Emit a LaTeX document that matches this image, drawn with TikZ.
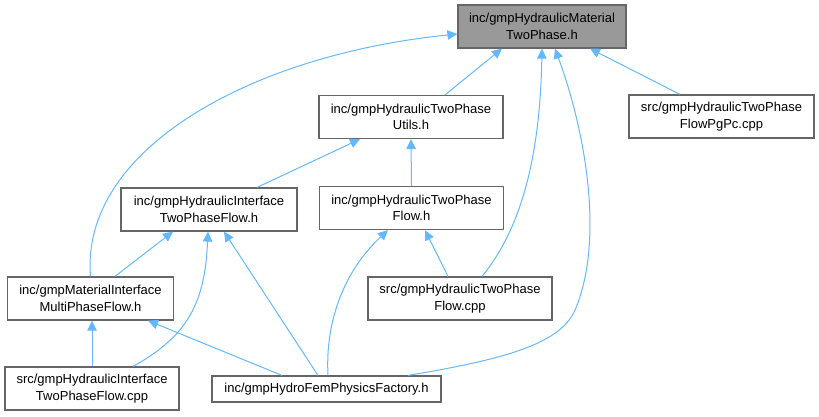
\documentclass[tikz,border=0pt]{standalone}
\usepackage{fontspec}
\setmainfont{Liberation Sans}
\usetikzlibrary{arrows.meta,shapes,positioning,calc}
\definecolor{edgeblue}{HTML}{63B8FF}
\definecolor{boxgray}{HTML}{666666}
\definecolor{rootfill}{HTML}{999999}

\begin{document}
\begin{tikzpicture}[
    x=1pt, y=-1pt,
    file/.style={rectangle,draw=boxgray,line width=1.2pt,fill=white,align=center,
        font=\fontsize{13}{16.5}\selectfont,minimum height=43pt,inner sep=2pt},
    current/.style={file,fill=rootfill},
    dep/.style={draw=edgeblue,line width=1pt,-{Triangle[length=10pt,width=9.5pt]}}
]
    \useasboundingbox (0,0) rectangle (819,416);
    % Nodes
    \node[current,minimum width=168pt] (root) at (542,26.5) {inc/gmpHydraulicMaterial\\TwoPhase.h};
    \node[file,minimum width=184pt] (utils) at (411,117) {inc/gmpHydraulicTwoPhase\\Utils.h};
    \node[file,minimum width=185pt] (pgpc) at (721.5,116.5) {src/gmpHydraulicTwoPhase\\FlowPgPc.cpp};
    \node[file,minimum width=176pt] (ifh) at (209,209.5) {inc/gmpHydraulicInterface\\TwoPhaseFlow.h};
    \node[file,minimum width=184pt] (tpfh) at (411.5,208) {inc/gmpHydraulicTwoPhase\\Flow.h};
    \node[file,minimum width=166pt] (mat) at (90.5,298.5) {inc/gmpMaterialInterface\\MultiPhaseFlow.h};
    \node[file,minimum width=184pt] (tpfcpp) at (460,298.5) {src/gmpHydraulicTwoPhase\\Flow.cpp};
    \node[file,minimum width=174pt] (ifcpp) at (92,388.5) {src/gmpHydraulicInterface\\TwoPhaseFlow.cpp};
    \node[file,minimum width=229pt,minimum height=26pt] (fact) at (326.5,389) {inc/gmpHydroFemPhysicsFactory.h};

    % Edges
    \draw[dep] ([xshift=34pt]utils.north) -- ([xshift=-40pt]root.south);
    \draw[dep] (mat.north) .. controls (80,150) and (250,55) .. ([yshift=-7.5pt]root.west);
    \draw[dep] ([xshift=22pt]tpfcpp.north) .. controls (520,230) and (540,160) .. (root.south);
    \draw[dep] ([xshift=81.5pt]fact.north) .. controls (500,360) and (560,345) .. (575,310)
        .. controls (605,240) and (585,130) .. ([xshift=13pt]root.south);
    \draw[dep] ([xshift=-41.5pt]pgpc.north) -- ([xshift=48pt]root.south);
    \draw[dep] ([xshift=48pt]ifh.north) -- ([xshift=-51pt]utils.south);
    \draw[dep] (tpfh.north) -- (utils.south);
    \draw[dep] ([xshift=24.5pt]mat.north) -- ([xshift=-36pt]ifh.south);
    \draw[dep] ([xshift=41pt]ifcpp.north) .. controls (190,335) and (205,300) .. ([xshift=-1pt]ifh.south);
    \draw[dep] ([xshift=-8.5pt]fact.north) -- ([xshift=15pt]ifh.south);
    \draw[dep] ([xshift=1.5pt]fact.north) .. controls (325,320) and (345,270) .. ([xshift=-23.5pt]tpfh.south);
    \draw[dep] ([xshift=-12pt]tpfcpp.north) -- ([xshift=13.5pt]tpfh.south);
    \draw[dep] (ifcpp.north) -- ([xshift=1.5pt]mat.south);
    \draw[dep] ([xshift=-44.5pt]fact.north) -- ([xshift=57.5pt]mat.south);
\end{tikzpicture}
\end{document}
